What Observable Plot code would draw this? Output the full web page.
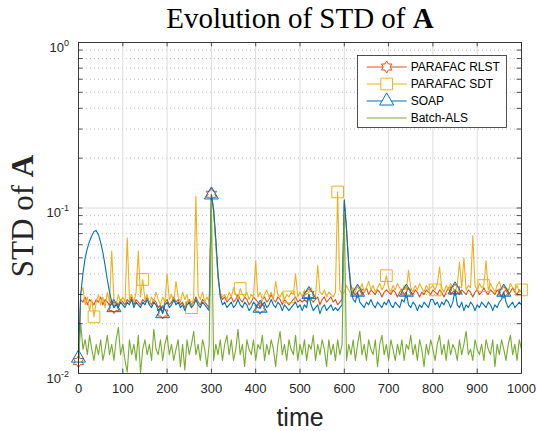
<!DOCTYPE html>
<html><head><meta charset="utf-8">
<script src="https://cdn.jsdelivr.net/npm/d3@7"></script>
<script src="https://cdn.jsdelivr.net/npm/@observablehq/plot@0.6"></script>
<style>
html,body{margin:0;padding:0;background:#fff;}
#wrap{position:relative;width:537px;height:431px;overflow:hidden;}
#wrap svg{display:block;}
#legend{position:absolute;left:357px;top:55px;}
</style></head><body><div id="wrap"></div>
<script>
// ---- data (sampled every 5 time steps) ----
const time = d3.range(0, 1001, 5);

const rlst = [
 0.0118,0.028,0.027,0.029,0.026,0.028,0.027,0.026,0.028,0.027, 0.029,0.026,0.028,0.027,0.026,0.028,0.025,0.027,0.026,0.028,
 0.027,0.026,0.028,0.027,0.029,0.026,0.028,0.027,0.026,0.028, 0.027,0.029,0.027,0.026,0.028,0.027,0.025,0.026,0.0232,0.027,
 0.028,0.026,0.027,0.029,0.027,0.028,0.026,0.027,0.025,0.027, 0.028,0.026,0.027,0.029,0.027,0.026,0.028,0.027,0.026,0.025,
 0.121,0.097,0.062,0.038,0.030,0.028,0.029,0.027,0.028,0.029, 0.027,0.028,0.030,0.028,0.027,0.029,0.028,0.026,0.027,0.029,
 0.028,0.027,0.0248,0.028,0.029,0.027,0.028,0.030,0.028,0.027, 0.029,0.028,0.026,0.028,0.027,0.026,0.027,0.028,0.029,0.027,
 0.028,0.027,0.028,0.027,0.030,0.028,0.027,0.028,0.029,0.026, 0.028,0.029,0.027,0.028,0.029,0.027,0.028,0.026,0.027,0.028,
 0.110,0.074,0.046,0.034,0.031,0.030,0.031,0.032,0.030,0.031, 0.033,0.030,0.032,0.031,0.030,0.032,0.031,0.029,0.031,0.032,
 0.031,0.030,0.032,0.031,0.029,0.031,0.032,0.030,0.031,0.033, 0.031,0.030,0.032,0.031,0.029,0.031,0.030,0.032,0.031,0.030,
 0.032,0.031,0.030,0.032,0.031,0.029,0.031,0.033,0.030,0.031, 0.032,0.031,0.030,0.032,0.031,0.030,0.032,0.031,0.029,0.031,
 0.032,0.030,0.031,0.033,0.031,0.030,0.032,0.031,0.030,0.032, 0.031,0.029,0.031,0.032,0.030,0.031,0.033,0.031,0.030,0.032,
 0.031
];

const sdt = [
 0.012,0.031,0.033,0.026,0.029,0.024,0.028,0.022,0.027,0.030, 0.026,0.029,0.025,0.031,0.027,0.055,0.028,0.026,0.030,0.027,
 0.029,0.027,0.066,0.028,0.030,0.027,0.031,0.055,0.029,0.037, 0.028,0.030,0.026,0.029,0.027,0.031,0.028,0.026,0.029,0.027,
 0.040,0.028,0.030,0.027,0.036,0.029,0.027,0.031,0.028,0.030, 0.026,0.025,0.029,0.118,0.030,0.028,0.031,0.027,0.029,0.027,
 0.120,0.095,0.060,0.038,0.031,0.029,0.030,0.028,0.031,0.029, 0.033,0.030,0.028,0.0326,0.030,0.029,0.031,0.028,0.030,0.029,
 0.048,0.029,0.031,0.028,0.030,0.032,0.029,0.031,0.028,0.036, 0.030,0.029,0.031,0.028,0.030,0.029,0.031,0.030,0.040,0.029,
 0.031,0.029,0.032,0.030,0.031,0.033,0.030,0.029,0.045,0.031, 0.030,0.032,0.029,0.031,0.030,0.029,0.031,0.125,0.032,0.030,
 0.031,0.034,0.032,0.030,0.033,0.031,0.034,0.032,0.035,0.031, 0.033,0.036,0.032,0.034,0.031,0.033,0.035,0.032,0.034,0.039,
 0.033,0.031,0.034,0.032,0.035,0.033,0.031,0.034,0.032,0.042, 0.033,0.031,0.034,0.032,0.035,0.033,0.031,0.034,0.032,0.033,
 0.034,0.032,0.035,0.044,0.033,0.031,0.034,0.032,0.035,0.033, 0.031,0.034,0.047,0.033,0.050,0.032,0.034,0.033,0.068,0.034,
 0.032,0.035,0.033,0.034,0.048,0.032,0.035,0.033,0.031,0.034, 0.036,0.032,0.034,0.033,0.031,0.035,0.033,0.032,0.034,0.031,
 0.032
];

const soap = [
 0.0124,0.030,0.040,0.050,0.057,0.063,0.068,0.072,0.073,0.069, 0.062,0.054,0.045,0.037,0.031,0.027,0.025,0.026,0.025,0.027,
 0.026,0.025,0.027,0.026,0.028,0.025,0.027,0.026,0.025,0.027, 0.026,0.028,0.026,0.025,0.027,0.026,0.024,0.025,0.023,0.026,
 0.027,0.025,0.026,0.028,0.026,0.027,0.025,0.026,0.024,0.026, 0.027,0.025,0.026,0.028,0.026,0.025,0.027,0.026,0.025,0.024,
 0.120,0.098,0.065,0.040,0.029,0.026,0.027,0.025,0.026,0.027, 0.025,0.026,0.028,0.026,0.025,0.027,0.026,0.024,0.025,0.027,
 0.026,0.025,0.0248,0.026,0.027,0.025,0.026,0.028,0.026,0.025, 0.027,0.026,0.024,0.026,0.025,0.024,0.025,0.026,0.027,0.025,
 0.026,0.024,0.026,0.025,0.030,0.026,0.024,0.025,0.026,0.023, 0.025,0.026,0.024,0.025,0.026,0.024,0.025,0.024,0.025,0.026,
 0.112,0.075,0.045,0.032,0.028,0.027,0.031,0.027,0.026,0.025, 0.027,0.026,0.028,0.026,0.025,0.027,0.026,0.025,0.027,0.026,
 0.028,0.026,0.025,0.027,0.026,0.025,0.028,0.027,0.031,0.026, 0.025,0.027,0.026,0.024,0.026,0.025,0.027,0.026,0.025,0.028,
 0.028,0.026,0.027,0.025,0.027,0.026,0.028,0.027,0.025,0.027, 0.032,0.026,0.025,0.027,0.024,0.026,0.025,0.027,0.026,0.024,
 0.026,0.025,0.027,0.026,0.025,0.027,0.026,0.024,0.026,0.025, 0.027,0.028,0.031,0.027,0.025,0.026,0.027,0.025,0.026,0.027,
 0.026
];

const batchAls = [
 0.012,0.020,0.014,0.016,0.013,0.017,0.014,0.012,0.015,0.013, 0.016,0.012,0.014,0.017,0.013,0.015,0.012,0.016,0.019,0.013,
 0.015,0.012,0.0102,0.016,0.013,0.015,0.012,0.017,0.0101,0.014, 0.016,0.013,0.015,0.012,0.0185,0.014,0.013,0.016,0.012,0.015,
 0.017,0.013,0.015,0.012,0.014,0.016,0.011,0.015,0.0105,0.016, 0.013,0.015,0.018,0.013,0.015,0.012,0.016,0.014,0.011,0.015,
 0.110,0.012,0.015,0.013,0.016,0.012,0.015,0.017,0.013,0.016, 0.012,0.014,0.0185,0.013,0.015,0.011,0.016,0.014,0.013,0.016,
 0.012,0.015,0.014,0.017,0.012,0.015,0.013,0.016,0.014,0.011, 0.015,0.018,0.013,0.015,0.012,0.016,0.014,0.013,0.017,0.012,
 0.015,0.013,0.016,0.012,0.015,0.014,0.017,0.012,0.015,0.013, 0.016,0.014,0.011,0.016,0.013,0.015,0.012,0.016,0.013,0.015,
 0.095,0.012,0.015,0.013,0.016,0.012,0.015,0.018,0.013,0.015, 0.012,0.016,0.014,0.013,0.016,0.011,0.015,0.017,0.013,0.015,
 0.012,0.016,0.014,0.012,0.015,0.013,0.016,0.012,0.015,0.014, 0.017,0.013,0.015,0.012,0.016,0.014,0.011,0.015,0.013,0.016,
 0.014,0.012,0.015,0.017,0.013,0.015,0.012,0.016,0.013,0.015, 0.014,0.012,0.016,0.013,0.015,0.018,0.013,0.014,0.012,0.016,
 0.014,0.013,0.015,0.012,0.016,0.014,0.013,0.016,0.011,0.015, 0.013,0.016,0.014,0.012,0.015,0.017,0.013,0.015,0.012,0.016,
 0.014
];

const seriesNames = ["PARAFAC RLST", "PARAFAC SDT", "SOAP", "Batch-ALS"];
const seriesColors = ["#D95319", "#EDB120", "#0072BD", "#77AC30"];
const triMarkerTimes = [0, 80, 190, 300, 410, 520, 630, 740, 850, 960];
const sqMarkerTimes = [35, 145, 255, 365, 475, 585, 695, 805, 915, 1000];

const xTicks = [0, 100, 200, 300, 400, 500, 600, 700, 800, 900, 1000];
const yMajor = [0.01, 0.1, 1];
const yMinor = [0.02,0.03,0.04,0.05,0.06,0.07,0.08,0.09, 0.2,0.3,0.4,0.5,0.6,0.7,0.8,0.9];
const titleText = "Evolution of STD of A";
const yLabelText = "STD of A";
const xLabelText = "time";

// ---- hexagram symbol (MATLAB 'h') ----
const hexagram = {
  draw(context, size) {
    const R = Math.sqrt(size / Math.PI), r = R / Math.sqrt(3);
    for (let i = 0; i < 12; i++) {
      const a = -Math.PI / 2 + i * Math.PI / 6;
      const rr = i % 2 === 0 ? R : r;
      const px = rr * Math.cos(a), py = rr * Math.sin(a);
      if (i === 0) context.moveTo(px, py); else context.lineTo(px, py);
    }
    context.closePath();
  }
};

const valuesList = [rlst, sdt, soap, batchAls];
const symbols = [hexagram, "square", "triangle", null];
const symR = [6, 6.6, 5.2, 0];
const markerTimesList = [triMarkerTimes, sqMarkerTimes, triMarkerTimes, []];

const rowsOf = (vals) => time.map((t, i) => ({t, v: vals[i]}));

const W = 537, H = 431, mL = 78, mR = 16, mT = 42, mB = 58;
const pw = W - mL - mR, ph = H - mT - mB;
const tick = 4.4;
const dark = "#262626";
const serif = "'Liberation Serif', 'Times New Roman', serif";

const seriesMarks = [];
valuesList.forEach((vals, k) => {
  const rows = rowsOf(vals);
  seriesMarks.push(Plot.line(rows, {x: "t", y: "v", stroke: seriesColors[k], strokeWidth: 1.1}));
  if (symbols[k]) {
    const mset = new Set(markerTimesList[k]);
    seriesMarks.push(Plot.dot(rows.filter(d => mset.has(d.t)), {
      x: "t", y: "v", symbol: symbols[k], r: symR[k], stroke: seriesColors[k], fill: "none", strokeWidth: 1
    }));
  }
});

const chart = Plot.plot({
  width: W, height: H,
  marginLeft: mL, marginRight: mR, marginTop: mT, marginBottom: mB,
  x: {domain: [0, 1000]},
  y: {type: "log", domain: [0.01, 1]},
  style: {fontFamily: "'Liberation Sans', Arial, sans-serif", background: "white", color: dark, fontSize: "13px", overflow: "visible"},
  marks: [
    Plot.ruleY(yMinor, {stroke: dark, strokeOpacity: 0.3, strokeDasharray: "1,3"}),
    Plot.ruleY([0.1], {stroke: "#dcdcdc"}),
    Plot.ruleX(xTicks.slice(1, -1), {stroke: "#dcdcdc"}),
    ...seriesMarks,
    Plot.ruleX(xTicks, {insetTop: ph - tick, stroke: dark, strokeWidth: 0.8}),
    Plot.ruleX(xTicks, {insetBottom: ph - tick, stroke: dark, strokeWidth: 0.8}),
    Plot.ruleY([...yMinor, 0.1], {insetRight: pw - tick, stroke: dark, strokeWidth: 0.8}),
    Plot.ruleY([...yMinor, 0.1], {insetLeft: pw - tick, stroke: dark, strokeWidth: 0.8}),
    Plot.frame({stroke: dark, strokeWidth: 0.9}),
    Plot.axisX({ticks: xTicks, tickSize: 0, tickPadding: 10, label: null, fontSize: 13, tickFormat: d => String(d)}),
    Plot.axisY({ticks: yMajor, tickSize: 0, tickPadding: 9.5, label: null, dy: 5, fontSize: 13,
      tickFormat: d => "10^" + Math.round(Math.log10(d))}),
    Plot.text([titleText], {frameAnchor: "top", textAnchor: "middle", lineAnchor: "bottom", dy: -14.6, fontSize: 29,
      fontFamily: serif, fill: "#000"}),
    Plot.text([yLabelText], {frameAnchor: "left", textAnchor: "middle", lineAnchor: "middle", rotate: -90, dx: -55, dy: 8, fontSize: 31,
      fontFamily: serif, fill: dark}),
    Plot.text([xLabelText], {frameAnchor: "bottom", textAnchor: "middle", lineAnchor: "bottom", dy: 52.5, fontSize: 25,
      fill: dark})
  ]
});

// superscript exponents on y tick labels
d3.select(chart).selectAll('g[aria-label="y-axis tick label"] text').each(function () {
  const s = this.textContent; const exp = s.split("^")[1];
  this.textContent = "10";
  d3.select(this).append("tspan").attr("dy", -6).attr("font-size", 9).text(exp);
});
// bold "A" in title and y label
d3.select(chart).selectAll("text").each(function () {
  const s = this.textContent;
  if (s === titleText || s === yLabelText) {
    this.textContent = s.slice(0, -1);
    d3.select(this).append("tspan").attr("font-weight", "bold").text(s.slice(-1));
  }
});

const wrap = document.getElementById("wrap");
wrap.appendChild(chart);

// ---- legend ----
const LW = 150, LH = 73, rowY = [12, 29, 46, 63];
const leg = d3.create("svg").attr("id", "legend").attr("width", LW).attr("height", LH)
  .style("position", "absolute").style("left", "357px").style("top", "55px");
leg.append("rect").attr("x", 0.5).attr("y", 0.5).attr("width", LW - 1).attr("height", LH - 1)
  .attr("fill", "white").attr("stroke", dark).attr("stroke-width", 0.8);
seriesNames.forEach((name, k) => {
  const y = rowY[k];
  leg.append("line").attr("x1", 9.7).attr("x2", 49.7).attr("y1", y).attr("y2", y)
    .attr("stroke", seriesColors[k]).attr("stroke-width", 1.1);
  if (symbols[k]) {
    const sym = symbols[k] === "square" ? d3.symbolSquare : symbols[k] === "triangle" ? d3.symbolTriangle : symbols[k];
    const p = d3.path(); sym.draw(p, Math.PI * symR[k] * symR[k]);
    leg.append("path").attr("d", p.toString()).attr("transform", `translate(29.7,${y})`)
      .attr("fill", "white").attr("stroke", seriesColors[k]).attr("stroke-width", 1);
  }
  leg.append("text").attr("x", 53.7).attr("y", y + 4.3).attr("font-size", 12)
    .attr("font-family", "'Liberation Sans', Arial, sans-serif").attr("fill", "#000").text(name);
});
wrap.appendChild(leg.node());
</script></body></html>
